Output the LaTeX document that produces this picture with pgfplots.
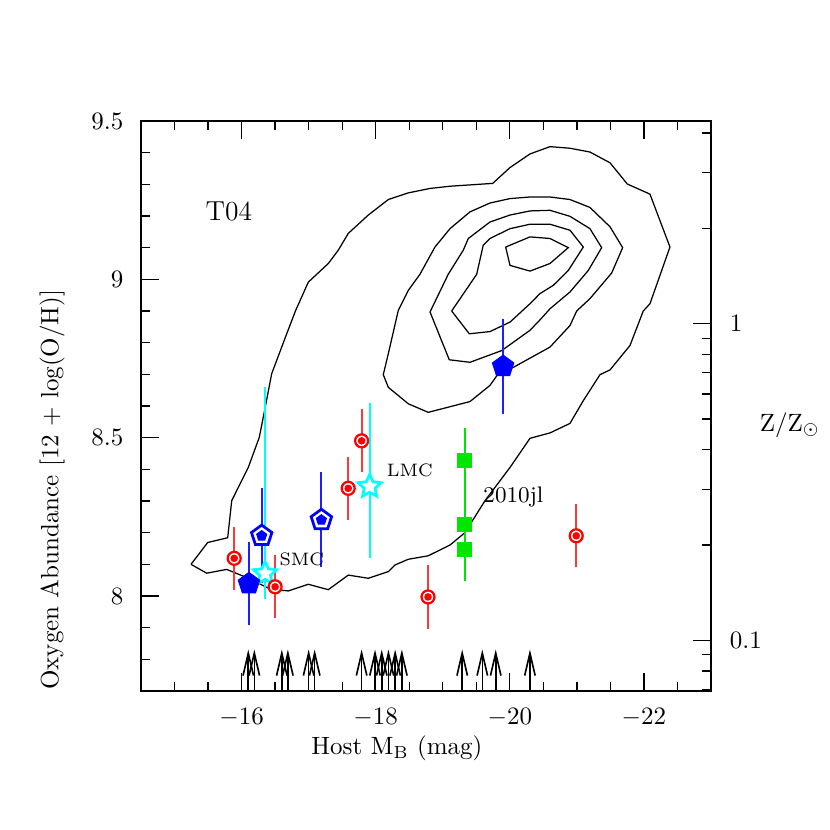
\documentclass[border=0pt]{standalone}
\usepackage{pgfplots}
\pgfplotsset{compat=1.18}
\usetikzlibrary{arrows.meta}
\definecolor{mygreen}{RGB}{0,230,0}
\definecolor{mycyan}{RGB}{0,255,255}
\definecolor{myred}{RGB}{255,0,0}
\definecolor{myblue}{RGB}{0,0,255}
\definecolor{ebred}{RGB}{245,60,60}
\definecolor{ebblue}{RGB}{30,30,255}
\pgfdeclareplotmark{ostar}{%
  \pgfpathmoveto{\pgfpointpolar{90}{\pgfplotmarksize}}%
  \pgfpathlineto{\pgfpointpolar{126}{0.48*\pgfplotmarksize}}%
  \pgfpathlineto{\pgfpointpolar{162}{\pgfplotmarksize}}%
  \pgfpathlineto{\pgfpointpolar{198}{0.48*\pgfplotmarksize}}%
  \pgfpathlineto{\pgfpointpolar{234}{\pgfplotmarksize}}%
  \pgfpathlineto{\pgfpointpolar{270}{0.48*\pgfplotmarksize}}%
  \pgfpathlineto{\pgfpointpolar{306}{\pgfplotmarksize}}%
  \pgfpathlineto{\pgfpointpolar{342}{0.48*\pgfplotmarksize}}%
  \pgfpathlineto{\pgfpointpolar{18}{\pgfplotmarksize}}%
  \pgfpathlineto{\pgfpointpolar{54}{0.48*\pgfplotmarksize}}%
  \pgfpathclose
  \pgfusepathqfillstroke
}
\begin{document}
\begin{tikzpicture}
\begin{axis}[name=main, width=228pt, height=228pt, scale only axis,
  x dir=reverse, xmin=-23, xmax=-14.5, ymin=7.7, ymax=9.5,
  xtick={-22,-20,-18,-16},
  minor xtick={-22.5,-21.5,-21,-20.5,-19.5,-19,-18.5,-17.5,-17,-16.5,-15.5,-15},
  ytick={8,8.5,9,9.5},
  minor ytick={7.8,7.9,8.1,8.2,8.3,8.4,8.6,8.7,8.8,8.9,9.1,9.2,9.3,9.4},
  ytick pos=left,
  tick align=inside, major tick length=7.2pt, minor tick length=3.6pt,
  every tick/.style={black, line width=0.5pt},
  axis line style={line width=0.5pt},
  xticklabel style={yshift=-3.5pt}, yticklabel style={xshift=-3.5pt},
  xlabel={Host M$_{\rm B}$ (mag)},
  ylabel={Oxygen Abundance [12 + log(O/H)]},
  xlabel style={at={(axis description cs:0.449,-0.1)}, anchor=center},
  ylabel style={at={(axis description cs:-0.156,0.353)}, anchor=center},
  clip=false]
% contours
\addplot[black, line width=0.5pt, mark=none] coordinates {
(-15.246,8.100) (-15.495,8.169) (-15.793,8.184) (-15.853,8.301) (-16.100,8.406)
(-16.264,8.501) (-16.349,8.592) (-16.449,8.702) (-16.673,8.828) (-16.807,8.902)
(-16.995,8.991) (-17.293,9.050) (-17.442,9.092) (-17.591,9.145) (-17.890,9.203)
(-18.188,9.252) (-18.486,9.273) (-18.810,9.287) (-19.108,9.294) (-19.745,9.303)
(-20.003,9.353) (-20.301,9.396) (-20.599,9.419) (-20.897,9.414) (-21.195,9.402)
(-21.494,9.368) (-21.752,9.301) (-22.090,9.269) (-22.388,9.102) (-22.090,8.923)
(-21.990,8.900) (-21.792,8.791) (-21.494,8.714) (-21.345,8.699) (-21.096,8.617)
(-20.897,8.545) (-20.599,8.515) (-20.301,8.498) (-20.003,8.406) (-19.630,8.301)
(-19.331,8.200) (-19.108,8.161) (-18.784,8.127) (-18.486,8.116) (-18.288,8.098)
(-18.188,8.077) (-17.890,8.056) (-17.591,8.066) (-17.293,8.020) (-16.995,8.037)
(-16.697,8.016) (-16.424,8.022) (-16.125,8.054) (-15.778,8.084) (-15.480,8.072)
(-15.246,8.100)};
\addplot[black, line width=0.5pt, mark=none] coordinates {
(-18.113,8.699) (-18.188,8.659) (-18.486,8.607) (-18.784,8.580) (-19.406,8.614)
(-19.704,8.665) (-19.828,8.702) (-20.052,8.722) (-20.599,8.786) (-20.897,8.854)
(-20.997,8.900) (-21.195,8.939) (-21.519,9.020) (-21.683,9.100) (-21.494,9.166)
(-21.195,9.227) (-20.897,9.252) (-20.599,9.260) (-20.301,9.260) (-20.003,9.255)
(-19.704,9.241) (-19.406,9.213) (-19.108,9.160) (-18.884,9.102) (-18.660,9.016)
(-18.486,8.965) (-18.337,8.902) (-18.188,8.765) (-18.113,8.699)};
\addplot[black, line width=0.5pt, mark=none] coordinates {
(-18.810,8.897) (-19.097,8.746) (-19.406,8.738) (-19.879,8.775) (-20.301,8.839)
(-20.450,8.872) (-20.599,8.907) (-20.897,8.960) (-21.170,9.028) (-21.370,9.100)
(-21.195,9.160) (-20.897,9.199) (-20.599,9.218) (-20.301,9.216) (-20.003,9.203)
(-19.704,9.181) (-19.381,9.129) (-19.306,9.092) (-19.082,9.016) (-18.810,8.897)};
\addplot[black, line width=0.5pt, mark=none] coordinates {
(-19.133,8.900) (-19.396,8.828) (-19.704,8.835) (-20.003,8.865) (-20.301,8.923)
(-20.450,8.955) (-20.648,8.981) (-20.872,9.028) (-21.096,9.102) (-20.897,9.155)
(-20.599,9.174) (-20.301,9.174) (-20.003,9.160) (-19.704,9.129) (-19.604,9.108)
(-19.506,9.016) (-19.133,8.900)};
\addplot[black, line width=0.5pt, mark=none] coordinates {
(-19.938,9.102) (-20.003,9.044) (-20.301,9.026) (-20.599,9.050) (-20.872,9.100)
(-20.599,9.129) (-20.301,9.134) (-19.938,9.102)};
% arrows
\addplot[black, line width=0.65pt, -{Straight Barb[length=9pt,width=4.2pt]},
  quiver={u=\thisrow{u},v=\thisrow{v}}] table {
x y u v
-16.10 7.7 0 0.131
-16.19 7.7 0 0.131
-16.60 7.7 0 0.131
-16.69 7.7 0 0.131
-17.00 7.7 0 0.131
-17.09 7.7 0 0.131
-17.79 7.7 0 0.131
-17.99 7.7 0 0.131
-18.09 7.7 0 0.131
-18.19 7.7 0 0.131
-18.29 7.7 0 0.131
-18.39 7.7 0 0.131
-19.29 7.7 0 0.131
-19.59 7.7 0 0.131
-19.79 7.7 0 0.131
-20.30 7.7 0 0.131
};
% error bars (drawn as vertical segments)
\addplot[mycyan, line width=0.75pt, mark=none] coordinates {(-16.35,7.990) (-16.35,8.659)};
\addplot[mycyan, line width=0.75pt, mark=none] coordinates {(-17.91,8.119) (-17.91,8.609)};
\addplot[ebblue, line width=0.75pt, mark=none] coordinates {(-16.30,8.040) (-16.30,8.340)};
\addplot[ebblue, line width=0.75pt, mark=none] coordinates {(-17.19,8.090) (-17.19,8.390)};
\addplot[ebblue, line width=0.75pt, mark=none] coordinates {(-16.11,7.909) (-16.11,8.169)};
\addplot[ebblue, line width=0.75pt, mark=none] coordinates {(-19.90,8.575) (-19.90,8.875)};
\addplot[ebred, line width=0.75pt, mark=none] coordinates {(-15.89,8.019) (-15.89,8.219)};
\addplot[ebred, line width=0.75pt, mark=none] coordinates {(-16.50,7.929) (-16.50,8.129)};
\addplot[ebred, line width=0.75pt, mark=none] coordinates {(-17.59,8.240) (-17.59,8.440)};
\addplot[ebred, line width=0.75pt, mark=none] coordinates {(-17.79,8.390) (-17.79,8.590)};
\addplot[ebred, line width=0.75pt, mark=none] coordinates {(-18.78,7.897) (-18.78,8.097)};
\addplot[ebred, line width=0.75pt, mark=none] coordinates {(-20.99,8.090) (-20.99,8.290)};
\addplot[mygreen, line width=0.75pt, mark=none] coordinates {(-19.33,8.047) (-19.33,8.531)};
% cyan stars (SMC, LMC)
\addplot[only marks, mark=ostar, mark size=4.8pt,
  mark options={fill=white, draw=mycyan, line width=1.1pt}] table {
x y
-16.35 8.071
-17.91 8.346
};
% blue open pentagons
\addplot[only marks, mark=pentagon*, mark size=4.3pt,
  mark options={fill=white, draw=myblue, line width=1.1pt}] table {
x y
-16.30 8.190
-17.19 8.240
};
\addplot[only marks, myblue, mark=pentagon*, mark size=2.1pt] table {
x y
-16.30 8.190
-17.19 8.240
};
% blue filled pentagons
\addplot[only marks, myblue, mark=pentagon*, mark size=4.5pt] table {
x y
-16.11 8.039
-19.90 8.725
};
% red target symbols
\addplot[only marks, mark=*, mark size=2.6pt,
  mark options={fill=white, draw=myred, line width=0.9pt}] table {
x y
-15.89 8.119
-16.50 8.029
-17.59 8.340
-17.79 8.490
-18.78 7.997
-20.99 8.190
};
\addplot[only marks, myred, mark=*, mark size=1.3pt] table {
x y
-15.89 8.119
-16.50 8.029
-17.59 8.340
-17.79 8.490
-18.78 7.997
-20.99 8.190
};
% green squares (2010jl)
\addplot[only marks, mygreen, mark=square*, mark size=2.8pt] table {
x y
-19.33 8.429
-19.33 8.225
-19.33 8.148
};
\node[font=\fontsize{11}{13}\selectfont] at (axis cs:-15.81,9.215) {T04};
\node[anchor=west, font=\fontsize{7.2}{9}\selectfont, inner sep=0pt] at (axis cs:-16.56,8.116) {SMC};
\node[anchor=west, font=\fontsize{7.2}{9}\selectfont, inner sep=0pt] at (axis cs:-18.16,8.396) {LMC};
\node[anchor=west, font=\fontsize{9}{11}\selectfont, inner sep=0pt] at (axis cs:-19.60,8.313) {2010jl};
\end{axis}
\begin{axis}[width=228pt, height=228pt, scale only axis,
  ymode=log, ymin=0.06918, ymax=4.3652, xmin=0, xmax=1,
  hide x axis, ytick pos=right,
  ytick={0.1,1}, yticklabels={0.1,1},
  minor ytick={0.07,0.08,0.09,0.2,0.3,0.4,0.5,0.6,0.7,0.8,0.9,2,3,4},
  tick align=inside, major tick length=7.2pt, minor tick length=3.6pt,
  every tick/.style={black, line width=0.5pt},
  axis line style={line width=0.5pt},
  yticklabel style={xshift=4pt}, clip=false]
\addplot[draw=none, mark=none] coordinates {(0.5,1)};
\node[anchor=west, xshift=16pt] at (rel axis cs:1,0.467) {$\mathrm{Z/Z_{\odot}}$};
\end{axis}
\path ([xshift=-56.4pt,yshift=-55.6pt]main.south west) rectangle ([xshift=47.6pt,yshift=48.4pt]main.north east);
\end{tikzpicture}
\end{document}
